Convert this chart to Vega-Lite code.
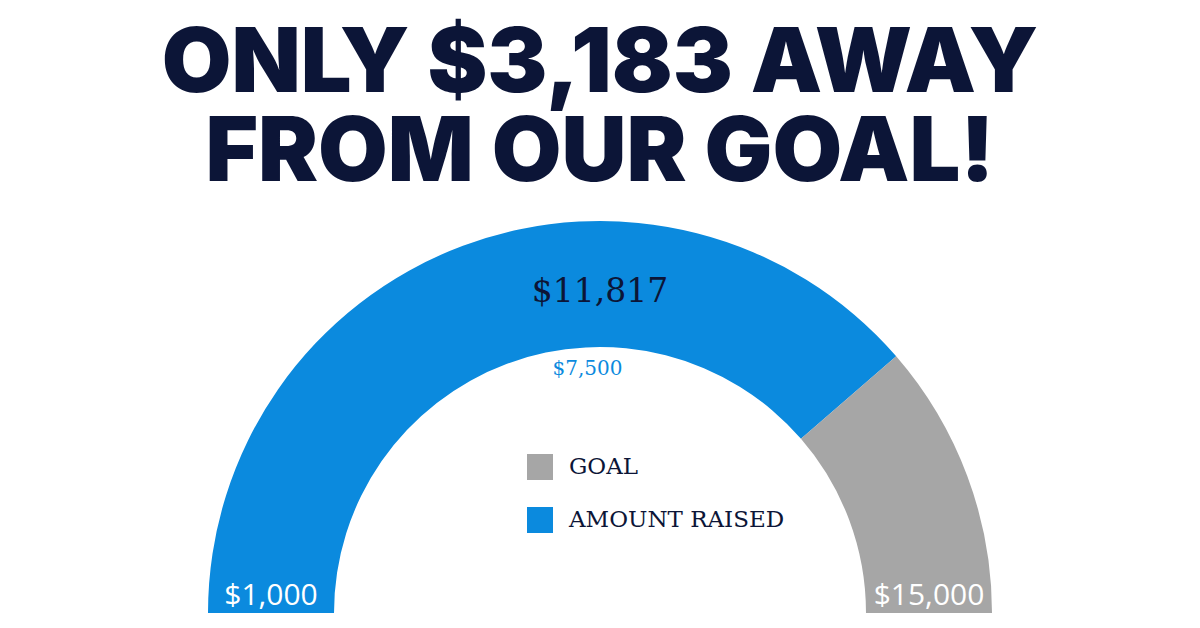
{
  "$schema": "https://vega.github.io/schema/vega-lite/v6.json",
  "width": 1200,
  "height": 628,
  "autosize": {"type": "fit", "contains": "padding"},
  "padding": {"top": 20, "bottom": 14, "left": 0, "right": 0},
  "background": "white",
  "config": {"view": {"stroke": null}},
  "title": {
    "text": ["ONLY $3,183 AWAY", "FROM OUR GOAL!"],
    "font": "Inter",
    "fontWeight": 900,
    "fontSize": 90,
    "lineHeight": 89,
    "color": "#0c1537",
    "anchor": "middle",
    "baseline": "top",
    "offset": 10
  },
  "datasets": {
    "segments": [
      {"category": "AMOUNT RAISED", "from": 1000, "to": 11817},
      {"category": "GOAL", "from": 11817, "to": 15000}
    ],
    "gaugeLabels": [
      {"label": "$1,000", "value": 1000, "role": "end"},
      {"label": "$7,500", "value": 7500, "role": "mid"},
      {"label": "$15,000", "value": 15000, "role": "end"}
    ]
  },
  "encoding": {
    "x": {"datum": 0, "type": "quantitative", "scale": {"domain": [-1, 1]}, "axis": null},
    "y": {"datum": 0, "type": "quantitative", "scale": {"domain": [0, 1]}, "axis": null}
  },
  "layer": [
    {
      "data": {"name": "segments"},
      "mark": {"type": "arc", "radius": 392, "radius2": 266, "strokeWidth": 0},
      "encoding": {
        "theta": {"field": "from", "type": "quantitative", "scale": {"domain": [1000, 15000], "range": [-1.5708, 1.5708]}, "stack": null},
        "theta2": {"field": "to"},
        "color": {
          "field": "category",
          "type": "nominal",
          "scale": {"domain": ["GOAL", "AMOUNT RAISED"], "range": ["#a6a6a6", "#0b8ade"]},
          "legend": {
            "title": null,
            "orient": "none",
            "legendX": 527,
            "legendY": 244,
            "padding": 0,
            "symbolType": "square",
            "symbolSize": 676,
            "symbolStrokeWidth": 0,
            "symbolOpacity": 1,
            "labelFont": "DejaVu Serif",
            "labelFontSize": 23,
            "labelColor": "#0c1537",
            "labelOffset": 16,
            "labelLimit": 0,
            "rowPadding": 27
          }
        }
      }
    },
    {
      "data": {"name": "gaugeLabels"},
      "transform": [{"filter": "datum.role == 'end'"}],
      "mark": {"type": "text", "radius": 329, "dy": -17, "font": "Open Sans", "fontSize": 30, "color": "white", "align": "center", "baseline": "middle"},
      "encoding": {
        "theta": {"field": "value", "type": "quantitative"},
        "text": {"field": "label"}
      }
    },
    {
      "data": {"name": "gaugeLabels"},
      "transform": [{"filter": "datum.role == 'mid'"}],
      "mark": {"type": "text", "radius": 246, "dx": 15, "font": "DejaVu Serif", "fontSize": 20, "color": "#0b8ade", "align": "center", "baseline": "middle"},
      "encoding": {
        "theta": {"field": "value", "type": "quantitative"},
        "text": {"field": "label"}
      }
    },
    {
      "data": {"name": "segments"},
      "transform": [{"filter": "datum.category == 'AMOUNT RAISED'"}],
      "mark": {"type": "text", "radius": 321, "font": "DejaVu Serif", "fontSize": 33, "color": "#0c1537", "align": "center", "baseline": "middle"},
      "encoding": {
        "theta": {"datum": 8000, "type": "quantitative"},
        "text": {"field": "to", "type": "quantitative", "format": "$,d"}
      }
    }
  ]
}
